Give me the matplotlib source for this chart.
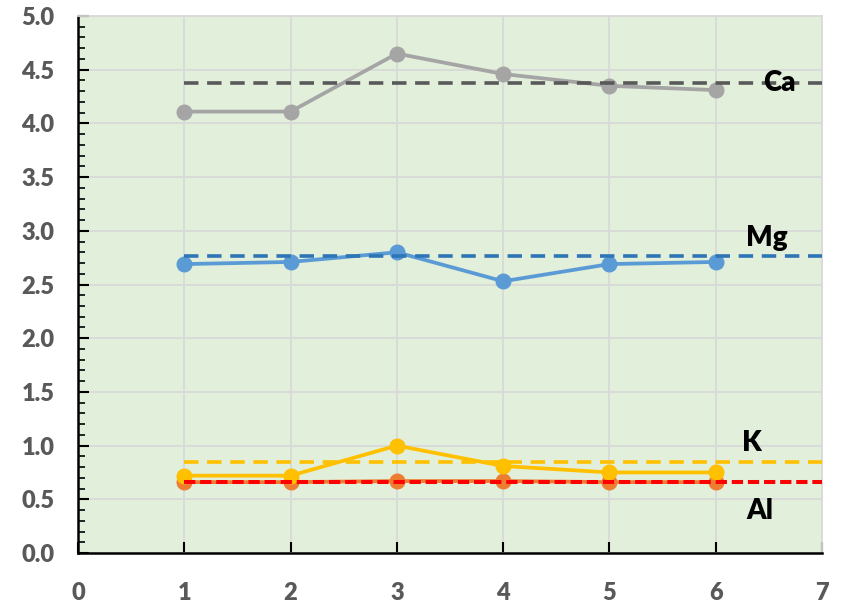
import numpy as np
import matplotlib
matplotlib.use('Agg')
import matplotlib.pyplot as plt
from matplotlib.ticker import MultipleLocator

plt.rcParams['font.family'] = ['Lato', 'DejaVu Sans']

x = [1, 2, 3, 4, 5, 6]
ca = [4.11, 4.11, 4.65, 4.46, 4.35, 4.31]
mg = [2.69, 2.71, 2.80, 2.53, 2.69, 2.71]
k = [0.72, 0.72, 1.00, 0.81, 0.75, 0.75]
al = [0.66, 0.66, 0.67, 0.67, 0.66, 0.66]

ref_x = [1, 7]
ca_ref = 4.38
mg_ref = 2.77
k_ref = 0.845
al_ref = 0.66

fig = plt.figure(figsize=(8.46, 6.04), dpi=100)
ax = fig.add_axes([78 / 846, 51 / 604, 744 / 846, 537 / 604])
ax.set_facecolor('#e2efda')

# series with markers
ax.plot(x, al, color='#ed7d31', lw=2.7, marker='o', ms=10.5, zorder=3)
ax.plot(x, k, color='#ffc000', lw=2.7, marker='o', ms=10.5, zorder=3)
ax.plot(x, mg, color='#5b9bd5', lw=2.7, marker='o', ms=10.5, zorder=3)
ax.plot(x, ca, color='#a5a5a5', lw=2.7, marker='o', ms=10.5, zorder=3)

# reference lines
ax.plot(ref_x, [ca_ref] * 2, color='#595959', lw=2.6, dashes=(4.0, 2.4), zorder=4)
ax.plot(ref_x, [mg_ref] * 2, color='#2e75b6', lw=2.6, dashes=(4.0, 2.4), zorder=4)
ax.plot(ref_x, [k_ref] * 2, color='#ffc000', lw=2.6, dashes=(4.0, 2.4), zorder=4)
ax.plot(ref_x, [al_ref] * 2, color='#ff0000', lw=2.9, dashes=(2.8, 1.2), zorder=4)

lab = dict(fontsize=20, fontweight='heavy', color='black', ha='center', va='center', zorder=5)
ax.text(6.6, 4.38, 'Ca', **lab)
ax.text(6.48, 2.93, 'Mg', **lab)
ax.text(6.34, 1.02, 'K', **lab)
ax.text(6.42, 0.39, 'Al', **lab)

ax.set_xlim(0, 7)
ax.set_ylim(0, 5)
ax.xaxis.set_major_locator(MultipleLocator(1))
ax.yaxis.set_major_locator(MultipleLocator(0.5))
ax.yaxis.set_minor_locator(MultipleLocator(0.1))
ax.yaxis.set_major_formatter(plt.FormatStrFormatter('%.1f'))

ax.grid(True, which='major', color='#d9d9d9', lw=1.3, zorder=0)
ax.set_axisbelow(True)

for side in ['top', 'right']:
    ax.spines[side].set_color('#d9d9d9')
    ax.spines[side].set_linewidth(1.3)
for side in ['left', 'bottom']:
    ax.spines[side].set_color('black')
    ax.spines[side].set_linewidth(1.8)

ax.tick_params(axis='both', which='major', direction='in', length=8, width=1.5,
               labelsize=17, labelcolor='#595959')
ax.tick_params(axis='y', which='minor', direction='in', length=5, width=1.2)
ax.tick_params(axis='x', which='major', pad=21)
ax.tick_params(axis='y', which='major', pad=17)
ax.tick_params(top=False, right=False)
for lbl in ax.get_xticklabels() + ax.get_yticklabels():
    lbl.set_fontweight('heavy')

fig.savefig('out.png', dpi=100)
